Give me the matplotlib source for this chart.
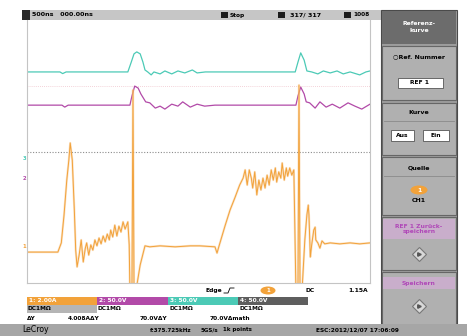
"""Oscilloscope screen: switching current (CH1) with two voltage traces (CH2, CH3)."""

import matplotlib
matplotlib.use("Agg")
import matplotlib.pyplot as plt
from matplotlib.patches import Rectangle, Ellipse


# time in microseconds (500 ns/div, 10 div), level in screen divisions (0..8)
T_CH3 = [0.00, 0.48, 0.52, 0.57, 1.47, 1.52, 1.56, 1.60, 1.65, 1.69, 1.72,
         1.76, 1.81, 1.85, 1.94, 2.01, 2.11, 2.20, 2.30, 2.41, 2.48, 2.60,
         3.91, 3.95, 3.99, 4.04, 4.08, 4.15,
         4.24, 4.32, 4.42, 4.52, 4.61, 4.71, 4.85, 4.94, 5.00]
V_CH3 = [6.42, 6.42, 6.37, 6.42, 6.42, 6.72, 6.97, 7.03, 6.97, 6.72, 6.48,
         6.42, 6.33, 6.42, 6.36, 6.45, 6.36, 6.45, 6.39, 6.48, 6.39, 6.42,
         6.42, 6.72, 7.00, 6.78, 6.45, 6.42,
         6.36, 6.45, 6.39, 6.45, 6.36, 6.42, 6.33, 6.42, 6.45]

T_CH2 = [0.00, 0.51, 0.55, 0.60, 1.50, 1.53, 1.57, 1.62, 1.66, 1.73,
         1.79, 1.87, 1.94, 2.01, 2.11, 2.20, 2.27, 2.38, 2.48, 2.59,
         2.74, 3.92, 3.95, 3.99, 4.04, 4.07, 4.12, 4.20, 4.27, 4.36,
         4.45, 4.56, 4.68, 4.78, 4.88, 5.00]
V_CH2 = [5.41, 5.41, 5.35, 5.41, 5.41, 5.69, 5.99, 5.93, 5.75, 5.51,
         5.48, 5.32, 5.38, 5.29, 5.44, 5.38, 5.51, 5.35, 5.44, 5.38,
         5.41, 5.41, 5.69, 5.96, 5.75, 5.51, 5.48, 5.32, 5.51, 5.35,
         5.44, 5.32, 5.48, 5.38, 5.29, 5.44]

T_CH1 = [0.00, 0.45, 0.50, 0.54, 0.58, 0.61, 0.63, 0.66, 0.69, 0.71,
         0.73, 0.76, 0.79, 0.82, 0.85, 0.87, 0.90, 0.93, 0.96, 0.99,
         1.02, 1.05, 1.08, 1.11, 1.14, 1.17, 1.20, 1.22, 1.25, 1.28,
         1.31, 1.34, 1.37, 1.40, 1.43, 1.47, 1.49, 1.50, 1.53, 1.545,
         1.56, 1.59, 1.65, 1.72, 1.79, 1.94, 2.16, 2.38, 2.52, 2.74,
         2.77, 2.80, 2.89, 2.96, 3.03, 3.10, 3.15, 3.18, 3.21, 3.24,
         3.27, 3.29, 3.32, 3.35, 3.38, 3.41, 3.44, 3.47, 3.50, 3.53,
         3.56, 3.59, 3.62, 3.64, 3.67, 3.70, 3.72, 3.75, 3.78, 3.80,
         3.83, 3.86, 3.89, 3.92, 3.95, 3.965, 3.98, 4.01, 4.05, 4.08,
         4.10, 4.11, 4.13, 4.15, 4.18, 4.20, 4.21, 4.24, 4.27, 4.30,
         4.34, 4.42, 4.56, 4.71, 4.85, 5.00]
I_CH1 = [0.94, 0.94, 1.22, 2.07, 3.13, 3.74, 4.26, 3.74, 2.22, 1.00,
         0.49, 0.85, 1.31, 0.64, 1.06, 1.22, 0.85, 1.16, 1.00, 1.31,
         1.13, 1.37, 1.19, 1.43, 1.25, 1.49, 1.31, 1.61, 1.40, 1.76,
         1.43, 1.73, 1.55, 1.86, 1.64, 1.86, 1.16, -0.21, -0.21, 5.87,
         -0.21, -0.21, 0.55, 1.13, 1.10, 1.13, 1.10, 1.13, 1.13, 1.10,
         0.91, 1.13, 1.76, 2.22, 2.59, 2.98, 3.19, 3.44, 2.98, 3.44,
         3.19, 2.89, 3.38, 2.68, 3.13, 2.83, 3.19, 2.89, 3.28, 2.98,
         3.44, 3.13, 3.50, 3.07, 3.38, 3.19, 3.65, 3.13, 3.50, 3.25,
         3.50, 3.28, 3.44, -0.21, -0.21, 6.02, -0.21, -0.21, 1.31, 2.07,
         2.37, 2.07, 0.79, 1.16, 1.61, 1.70, 1.31, 1.22, 1.06, 1.28,
         1.19, 1.22, 1.19, 1.22, 1.19, 1.22]

REF_LEVEL = 5.99

CHANNEL_LABELS = ["1: 2.00A", "2: 50.0V", "3: 50.0V", "4: 50.0V"]
COUPLING = ["DC1M\u03a9", "DC1M\u03a9", "DC1M\u03a9", "DC1M\u03a9"]
DELTA_LABELS = ["\u0394Y", "4.008A\u0394Y", "70.0V\u0394Y", "70.0V\u0394math"]

ORANGE = "#f2a23a"
MAGENTA = "#b24aa8"
CYAN = "#4ccab6"
GRAY4 = "#5e5e5e"
PANEL = "#b0b0b0"
PURPLE = "#b048b8"

W, H = 467, 336

fig = plt.figure(figsize=(W / 100, H / 100), dpi=100)
fig.patch.set_facecolor("white")

# screen chrome, drawn in pixel units
ui = fig.add_axes([0, 0, 1, 1], zorder=0)
ui.set_xlim(0, W)
ui.set_ylim(H, 0)
ui.axis("off")


def box(x0, y0, x1, y1, fc, ec="none", lw=0.0):
    ui.add_patch(Rectangle((x0, y0), x1 - x0, y1 - y0, facecolor=fc, edgecolor=ec, linewidth=lw))


def txt(x, y, s, size=4.6, color="black", ha="left", weight="bold", **kw):
    ui.text(x, y, s, fontsize=size, color=color, ha=ha, va="center", fontweight=weight, **kw)


# top status bar
box(22, 10, 383, 20, "#c6c6c6")
box(22, 10, 30, 20, "#2a2a2a")
txt(32, 15, "500ns   000.00ns")
box(221, 12, 228, 18, "#1c1c1c")
txt(230, 15, "Stop", size=4.2)
box(278, 12, 285, 18, "#1c1c1c")
txt(290, 15, "317/ 317")
box(344, 12, 351, 18, "#1c1c1c")
txt(353, 15, "1008", size=4.2)

# right soft-key panel
box(381, 10, 457, 325, "#9c9c9c", ec="#4a4a4a", lw=0.8)
box(382, 11, 456, 44, "#6c6c6c")
txt(419, 27, "Referenz-\nkurve", color="white", ha="center", size=4.4, linespacing=1.3)
for y0, y1 in [(46, 100), (103, 155), (157, 215), (217, 270), (272, 325)]:
    box(382, y0, 456, y1, PANEL, ec="#666666", lw=0.8)

txt(419, 57, "\u25cbRef. Nummer", ha="center", size=4.5)
box(398, 78, 443, 88, "white", ec="#555555", lw=0.6)
txt(420, 83, "REF 1", ha="center", size=4.3)

txt(419, 113, "Kurve", ha="center", size=4.5)
ui.plot([384, 454], [121, 121], color="#8a8a8a", lw=0.6)
box(391, 130, 414, 141, "white", ec="#555555", lw=0.6)
txt(402.5, 135.5, "Aus", ha="center", size=4.3)
box(423, 130, 449, 141, "white", ec="#555555", lw=0.6)
txt(436, 135.5, "Ein", ha="center", size=4.3)

txt(419, 168, "Quelle", ha="center", size=4.5)
ui.plot([384, 454], [176, 176], color="#8a8a8a", lw=0.6)
ui.add_patch(Ellipse((419, 190), 17, 9, facecolor=ORANGE, edgecolor="none"))
txt(419, 190, "1", color="white", ha="center", size=4.3)
txt(419, 201, "CH1", ha="center", size=4.5)

box(383, 219, 455, 239, "#c9aecb")
txt(419, 229, "REF 1 Zur\u00fcck-\nspeichern", color=PURPLE, ha="center", size=4.3, linespacing=1.2)
ui.plot([419], [254], marker="D", markersize=7, markerfacecolor="#d8d8d8",
        markeredgecolor="#777777", markeredgewidth=0.8)
ui.plot([419], [254], marker=">", markersize=2.5, color="#555555")

box(383, 277, 455, 289, "#c9aecb")
txt(419, 283, "Speichern", color=PURPLE, ha="center", size=4.3)
ui.plot([419], [306], marker="D", markersize=7, markerfacecolor="#d8d8d8",
        markeredgecolor="#777777", markeredgewidth=0.8)
ui.plot([419], [306], marker=">", markersize=2.5, color="#555555")

# trigger line
txt(205, 290.5, "Edge", size=4.3)
ui.plot([224, 228, 230, 234], [293, 293, 288, 288], color="black", lw=0.6)
ui.add_patch(Ellipse((268, 290.5), 15, 8, facecolor=ORANGE, edgecolor="none"))
txt(268, 290.5, "1", color="white", ha="center", size=4.0)
txt(305, 290.5, "DC", size=4.3)
txt(368, 290.5, "1.15A", ha="right", size=4.3)

# channel descriptor boxes
cell_x = [27, 97, 168, 238, 308]
cell_colors = [ORANGE, MAGENTA, CYAN, GRAY4]
for i, label in enumerate(CHANNEL_LABELS):
    box(cell_x[i], 297, cell_x[i + 1], 305, cell_colors[i])
    txt(cell_x[i] + 2, 301, label, color="white", size=4.2)
box(27, 305, 97, 313, "#b5b5b5")
for i, label in enumerate(COUPLING):
    txt(cell_x[i] + 1, 309, label, size=4.2)
delta_x = [27, 68, 140, 210]
for x, label in zip(delta_x, DELTA_LABELS):
    txt(x, 318, label, size=4.2)

# bottom status line
box(0, 324, W, 336, "#a6a6a6")
txt(22, 330, "LeCroy", size=5.6, weight="normal")
txt(150, 330, "f:375.725kHz", size=4.0)
txt(201, 330, "5GS/s", size=4.0)
txt(223, 330, "1k points", size=4.0)
txt(316, 330, "ESC:2012/12/07 17:06:09", size=4.2)

# channel ground markers on the left edge
txt(22.5, 158, "3", color=CYAN, size=3.8)
txt(22.5, 178, "2", color=MAGENTA, size=3.8)
txt(22.5, 247, "1", color=ORANGE, size=3.8)

# waveform grid
ax = fig.add_axes([27 / W, 1 - 283 / H, 343 / W, 263 / H], zorder=1)
ax.set_facecolor("white")
ax.set_xlim(0, 5)
ax.set_ylim(0, 8)
ax.set_xticks([])
ax.set_yticks([])
for side in ["left", "right", "bottom"]:
    ax.spines[side].set_color("#c4c4c4")
    ax.spines[side].set_linewidth(0.8)
ax.spines["top"].set_visible(False)

ax.axhline(4.0, color="#8c8c8c", lw=0.8, ls=(0, (1, 1.5)))
ax.axhline(REF_LEVEL, color="#f0c4cc", lw=0.6, ls=(0, (1, 1.5)))

ax.plot(T_CH3, V_CH3, color=CYAN, lw=0.9)
ax.plot(T_CH2, V_CH2, color=MAGENTA, lw=0.9)
ax.plot(T_CH1, I_CH1, color="#f7c488", lw=1.6, alpha=0.5)
ax.plot(T_CH1, I_CH1, color=ORANGE, lw=0.7)

fig.savefig("out.png", dpi=100)
